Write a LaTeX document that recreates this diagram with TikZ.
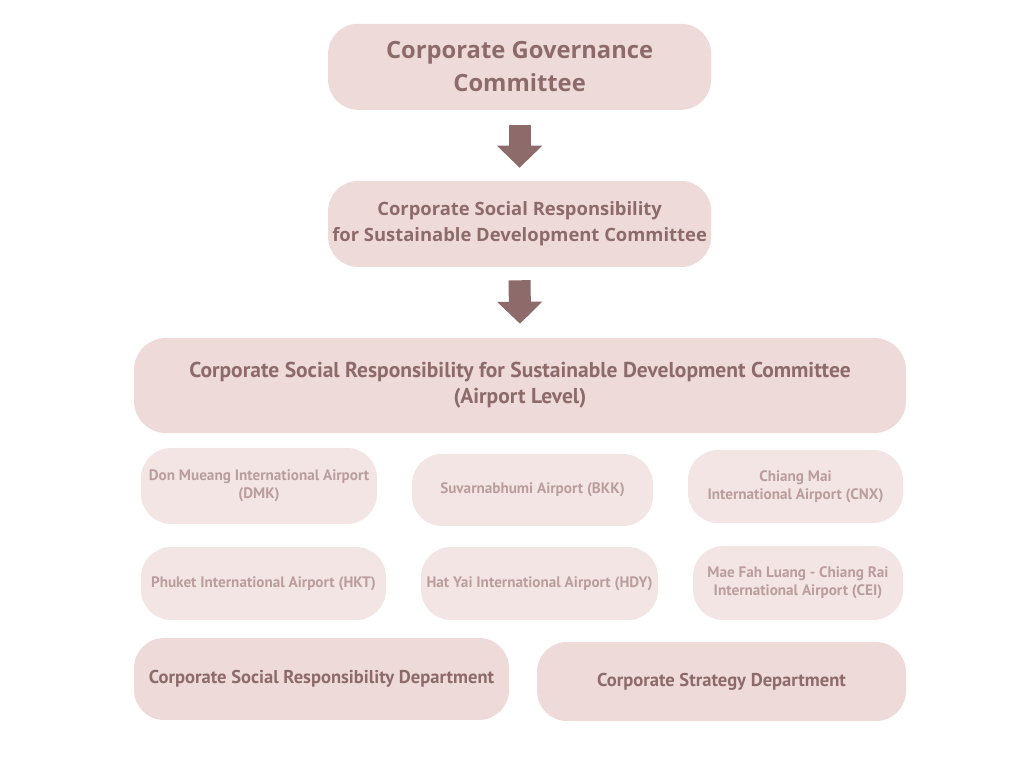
\documentclass[tikz,border=0pt]{standalone}
\usepackage{fontspec}
\setmainfont{Open Sans}
\newfontfamily\narrowfont{PT Sans}
\usepackage{tikz}
\usetikzlibrary{arrows.meta, positioning}
\definecolor{BoxRose}{HTML}{EFDADA}
\definecolor{BoxPale}{HTML}{F4E5E5}
\definecolor{TextMauve}{HTML}{8C6B6A}
\definecolor{TextPale}{HTML}{BA9D9D}
\tikzset{
  % Box styles
  committeebox/.style={rectangle, rounded corners=0.75cm, fill=BoxRose, text=TextMauve, align=center, inner sep=0pt},
  airportbox/.style={rectangle, rounded corners=0.75cm, fill=BoxPale, text=TextPale, align=center, inner sep=0pt, font=\narrowfont\bfseries\fontsize{10.8}{12.8}\selectfont},
  deptbox/.style={rectangle, rounded corners=0.75cm, fill=BoxRose, text=TextMauve, align=center, inner sep=0pt, font=\narrowfont\bfseries\fontsize{13.2}{15}\selectfont},
  % Arrow styles
  blockarrow/.style={-{Triangle[width=1.1cm, length=0.55cm]}, line width=0.55cm, TextMauve}
}
\begin{document}
\begin{tikzpicture}
  \useasboundingbox (0,0) rectangle (25.6,19.2);

  \node[committeebox, minimum width=9.575cm, minimum height=2.15cm, font=\bfseries\fontsize{16.9}{23.4}\selectfont] (gov) at (12.99,17.53) {Corporate Governance\\Committee};
  \node[committeebox, minimum width=9.575cm, minimum height=2.15cm, font=\bfseries\fontsize{13.1}{18.4}\selectfont] (csr) at (12.99,13.6) {Corporate Social Responsibility\\for Sustainable Development Committee};
  \node[committeebox, minimum width=19.3cm, minimum height=2.375cm, rounded corners=0.8cm, font=\narrowfont\bfseries\fontsize{15.3}{18.4}\selectfont] (lvl) at (13.0,9.5625) {Corporate Social Responsibility for Sustainable Development Committee\\(Airport Level)};

  \node[airportbox, minimum width=5.9cm, minimum height=1.9cm] (dmk) at (6.475,7.05) {Don Mueang International Airport\\(DMK)};
  \node[airportbox, minimum width=6.025cm, minimum height=1.8cm] (bkk) at (13.3125,6.95) {Suvarnabhumi Airport (BKK)};
  \node[airportbox, minimum width=5.375cm, minimum height=1.825cm] (cnx) at (19.8875,7.0375) {Chiang Mai\\International Airport (CNX)};
  \node[airportbox, minimum width=6.125cm, minimum height=1.825cm] (hkt) at (6.5875,4.6125) {Phuket International Airport (HKT)};
  \node[airportbox, minimum width=5.925cm, minimum height=1.825cm] (hdy) at (13.4875,4.6125) {Hat Yai International Airport (HDY)};
  \node[airportbox, minimum width=5.25cm, minimum height=1.85cm] (cei) at (19.95,4.625) {Mae Fah Luang - Chiang Rai\\International Airport (CEI)};

  \node[deptbox, minimum width=9.375cm, minimum height=2.05cm] (csrdept) at (8.0375,2.225) {Corporate Social Responsibility Department};
  \node[deptbox, minimum width=9.225cm, minimum height=1.975cm] (stratdept) at (18.0375,2.1625) {Corporate Strategy Department};

  \draw[blockarrow] ([yshift=-0.375cm]gov.south) -- ([yshift=0.325cm]csr.north);
  \draw[blockarrow] ([yshift=-0.325cm]csr.south) -- ([yshift=0.35cm]lvl.north);
\end{tikzpicture}
\end{document}
